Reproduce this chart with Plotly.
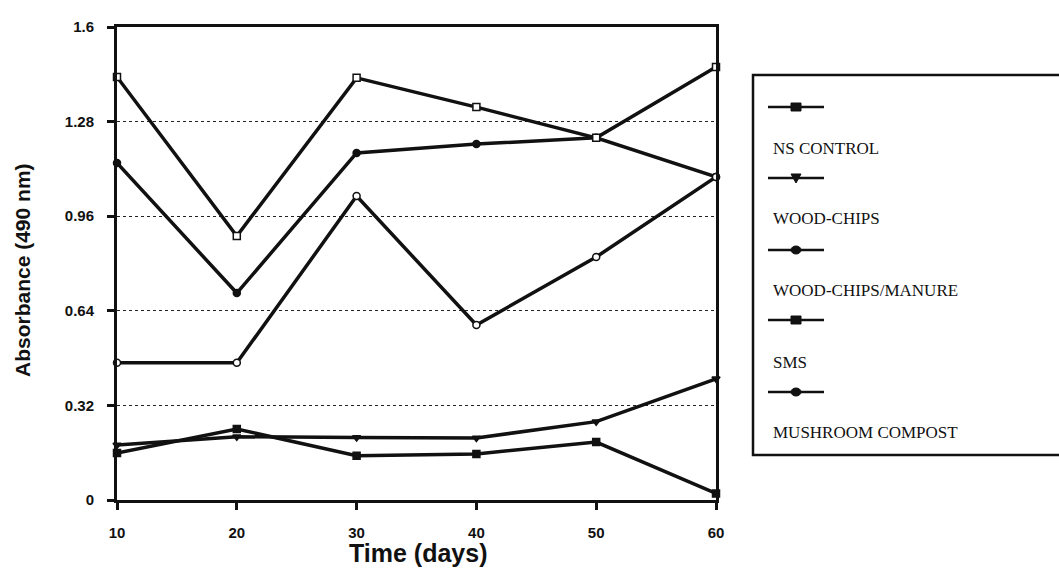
import plotly.graph_objects as go

# Sampling days
days = [10, 20, 30, 40, 50, 60]

# Absorbance at 490 nm for each treatment
ns_control = [0.159, 0.240, 0.150, 0.156, 0.196, 0.022]
wood_chips = [0.186, 0.214, 0.211, 0.210, 0.265, 0.410]
wood_chips_manure = [1.140, 0.700, 1.174, 1.204, 1.225, 1.093]
sms = [1.431, 0.893, 1.428, 1.329, 1.225, 1.465]
mushroom_compost = [0.464, 0.464, 1.028, 0.592, 0.822, 1.093]

series_names = ["NS CONTROL", "WOOD-CHIPS", "WOOD-CHIPS/MANURE", "SMS", "MUSHROOM COMPOST"]
series_values = [ns_control, wood_chips, wood_chips_manure, sms, mushroom_compost]
series_symbols = ["square", "triangle-down", "circle", "square", "circle"]
series_fill = ["#111111", "#111111", "#111111", "white", "white"]
legend_symbols = ["square", "triangle-down", "circle", "square", "circle"]

y_ticks = [0, 0.32, 0.64, 0.96, 1.28, 1.6]
y_tick_text = ["0", "0.32", "0.64", "0.96", "1.28", "1.6"]

INK = "#111111"
fig = go.Figure()

for name, vals, sym, fill in zip(series_names, series_values, series_symbols, series_fill):
    fig.add_trace(go.Scatter(
        x=days, y=vals, name=name, mode="lines+markers",
        line=dict(color=INK, width=3.5),
        marker=dict(symbol=sym, size=7, color=fill, line=dict(color=INK, width=1.5)),
        cliponaxis=False, showlegend=False,
    ))

bold_font = dict(family="Liberation Sans, Arial, sans-serif", size=15, color=INK, weight="bold")

fig.update_xaxes(
    range=[10, 60], tickvals=days, ticks="outside", ticklen=7, tickwidth=2.5,
    tickcolor=INK, showline=True, linecolor=INK, linewidth=3, mirror=True,
    showgrid=False, zeroline=False, tickfont=bold_font, ticklabelstandoff=10,
)
fig.update_yaxes(
    range=[0, 1.6], tickvals=y_ticks, ticktext=y_tick_text, ticks="outside",
    ticklen=7, tickwidth=2.5, tickcolor=INK, showline=True, linecolor=INK,
    linewidth=3, mirror=True, showgrid=True, gridcolor="#222222", gridwidth=1,
    griddash="dot", zeroline=False, tickfont=bold_font, ticklabelstandoff=10,
)

annotations = [
    dict(text="Absorbance (490 nm)", x=22, y=270, xref="paper", yref="paper",
         xanchor="center", yanchor="middle", showarrow=False, textangle=-90,
         font=dict(family="Liberation Sans, Arial, sans-serif", size=21, color=INK, weight="bold")),
    dict(text="Time (days)", x=418, y=553, xref="paper", yref="paper",
         xanchor="center", yanchor="middle", showarrow=False,
         font=dict(family="Liberation Sans, Arial, sans-serif", size=25, color=INK, weight="bold")),
]

# Legend box: sample line with marker, name printed below it
shapes = [dict(type="rect", xref="paper", yref="paper", x0=753, x1=1062, y0=75, y1=455,
               line=dict(color=INK, width=2.5), fillcolor="white", layer="below")]
sample_rows = [107, 178, 250, 320, 392]
label_rows = [148, 218, 290, 362, 432]
for name, sym, ys, yl in zip(series_names, legend_symbols, sample_rows, label_rows):
    shapes.append(dict(type="line", xref="paper", yref="paper", x0=768, x1=824, y0=ys, y1=ys,
                       line=dict(color=INK, width=2.5)))
    cx = 796
    if sym == "square":
        shapes.append(dict(type="rect", xref="paper", yref="paper", x0=cx - 5, x1=cx + 5,
                           y0=ys - 4, y1=ys + 4, fillcolor=INK, line=dict(color=INK, width=1)))
    elif sym == "circle":
        shapes.append(dict(type="circle", xref="paper", yref="paper", x0=cx - 5, x1=cx + 5,
                           y0=ys - 4, y1=ys + 4, fillcolor=INK, line=dict(color=INK, width=1)))
    else:
        shapes.append(dict(type="path", xref="paper", yref="paper",
                           path=f"M {cx-5} {ys-4} L {cx+5} {ys-4} L {cx} {ys+5} Z",
                           fillcolor=INK, line=dict(color=INK, width=1)))
    annotations.append(dict(text=name, x=771, y=yl, xref="paper", yref="paper",
                            xanchor="left", yanchor="middle", showarrow=False,
                            font=dict(family="Liberation Serif, Times New Roman, serif",
                                      size=17, color=INK)))

W, H = 1059, 577
# convert pixel positions for annotations and shapes into paper fractions
L, R, T, B = 117, 343, 27, 77
pw, ph = W - L - R, H - T - B


def px_x(v):
    return (v - L) / pw


def px_y(v):
    return (H - B - v) / ph


for a in annotations:
    a["x"] = px_x(a["x"])
    a["y"] = px_y(a["y"])
for s in shapes:
    if s["type"] == "path":
        parts = s["path"].split()
        out = []
        i = 0
        while i < len(parts):
            if parts[i] in ("M", "L"):
                out += [parts[i], f"{px_x(float(parts[i+1])):.5f}", f"{px_y(float(parts[i+2])):.5f}"]
                i += 3
            else:
                out.append(parts[i])
                i += 1
        s["path"] = " ".join(out)
    else:
        s["x0"], s["x1"] = px_x(s["x0"]), px_x(s["x1"])
        s["y0"], s["y1"] = px_y(s["y0"]), px_y(s["y1"])

fig.update_layout(
    width=W, height=H, margin=dict(l=L, r=R, t=T, b=B),
    paper_bgcolor="white", plot_bgcolor="white",
    annotations=annotations, shapes=shapes, showlegend=False,
)

fig.write_html("out.html")
